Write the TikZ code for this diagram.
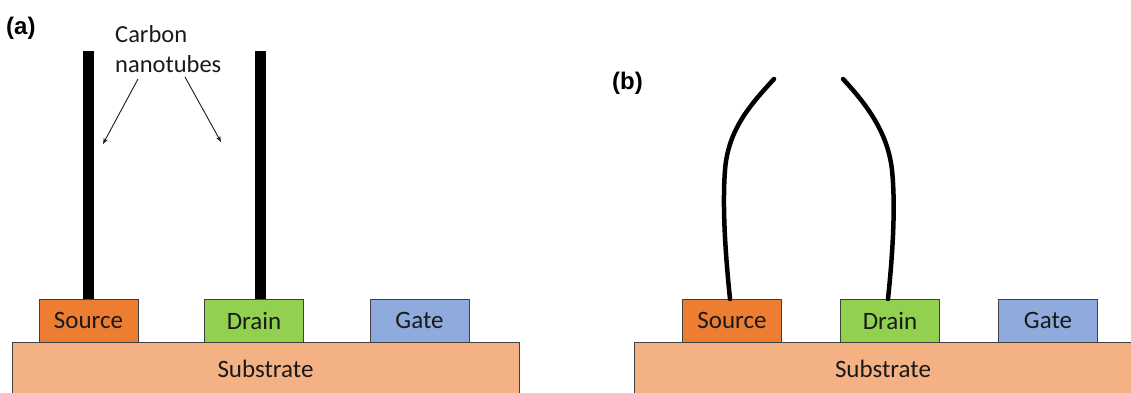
\documentclass[tikz,border=0pt]{standalone}
\usepackage{fontspec}
\setmainfont{Carlito}
\newfontfamily\labfont{Liberation Sans}
\usetikzlibrary{arrows.meta}
\definecolor{srcC}{HTML}{ED7D31}
\definecolor{drnC}{HTML}{92D050}
\definecolor{gatC}{HTML}{8FAADC}
\definecolor{subC}{HTML}{F4B183}
\definecolor{edgeC}{HTML}{404040}
\definecolor{txtC}{HTML}{1A1A1A}
\tikzset{
  pad/.style={draw=edgeC, line width=1pt, minimum width=99pt, minimum height=43pt, inner sep=0pt,
    font=\fontsize{25}{31}\selectfont, text=txtC},
  subbox/.style={draw=edgeC, line width=1pt, fill=subC, inner sep=0pt},
  tube/.style={line width=11pt, black},
  bent/.style={line width=4.5pt, black, line cap=round, line join=round},
  pointer/.style={line width=0.9pt, txtC, -{Stealth[length=6pt,width=4.5pt]}},
  panel/.style={font=\labfont\bfseries\fontsize{24}{28}\selectfont, inner sep=0pt},
  cnt/.style={font=\fontsize{24.5}{30}\selectfont, text=txtC, inner sep=0pt, align=left}
}
\begin{document}
\begin{tikzpicture}[x=1pt,y=-1pt]
\clip (0,0) rectangle (1131,392);
\fill[white] (0,0) rectangle (1131,392);
% ---------- panel (a) ----------
\draw[subbox] (12,342) rectangle (519,420);
\node[font=\fontsize{25}{31}\selectfont, text=txtC, anchor=base] (suba) at (265.5,377) {Substrate};
\node[pad, fill=srcC] (srca) at (88.5,320.5) {Source};
\node[pad, fill=drnC] (drna) at (254,320.5) {Drain};
\node[pad, fill=gatC] (gata) at (419.5,320.5) {Gate};
\coordinate (ta1) at (88.5,51);
\coordinate (ta2) at (260,51);
\draw[tube] (srca.north) -- (ta1);
\draw[tube] ([xshift=6pt]drna.north) -- (ta2);
\node[panel, anchor=north west] (la) at (6,17) {(a)};
\node[cnt, anchor=north west] (cnt) at (115,25) {Carbon\\nanotubes};
\coordinate (a1s) at (138,79);
\coordinate (a1e) at (103,144);
\coordinate (a2s) at (185,77);
\coordinate (a2e) at (221,142);
\draw[pointer] (a1s) -- (a1e);
\draw[pointer] (a2s) -- (a2e);
% ---------- panel (b) ----------
\draw[subbox] (634,342) rectangle (1140,420);
\node[font=\fontsize{25}{31}\selectfont, text=txtC, anchor=base] (subb) at (883,377) {Substrate};
\node[pad, fill=srcC] (srcb) at (732,320.5) {Source};
\node[pad, fill=drnC] (drnb) at (890,320.5) {Drain};
\node[pad, fill=gatC] (gatb) at (1048,320.5) {Gate};
\node[panel, anchor=north west] (lb) at (612,72) {(b)};
\coordinate (lt) at (774,79);
\coordinate (rt) at (843,79);
\draw[bent] (lt) .. controls (750,105) and (728,130) .. (725,170) .. controls (722,210) and (726,260) .. (730,299);
\draw[bent] (rt) .. controls (870,108) and (888,135) .. (892,170) .. controls (896,210) and (892,260) .. (888,299);
\end{tikzpicture}
\end{document}
